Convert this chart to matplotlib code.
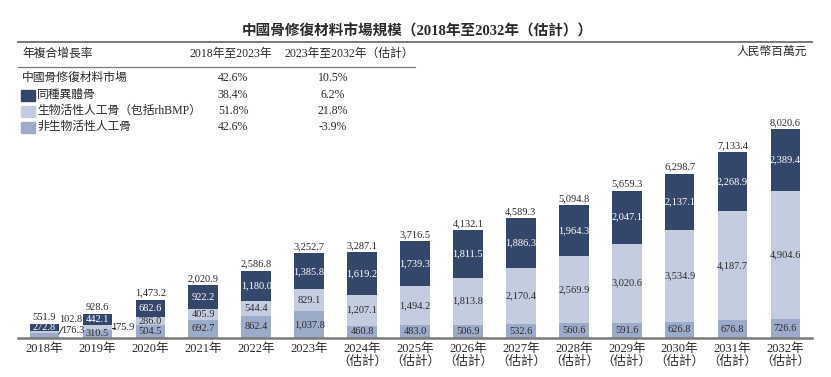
import matplotlib
matplotlib.use("Agg")
import matplotlib.pyplot as plt
from matplotlib.lines import Line2D
from matplotlib.patches import Rectangle

plt.rcParams['font.family'] = ['Liberation Serif', 'Noto Sans CJK TC', 'DejaVu Sans']

years = ["2018年", "2019年", "2020年", "2021年", "2022年", "2023年",
         "2024年\n（估計）", "2025年\n（估計）", "2026年\n（估計）", "2027年\n（估計）",
         "2028年\n（估計）", "2029年\n（估計）", "2030年\n（估計）", "2031年\n（估計）",
         "2032年\n（估計）"]
allograft = [272.8, 442.1, 682.6, 922.2, 1180.0, 1385.8, 1619.2, 1739.3, 1811.5,
             1886.3, 1964.3, 2047.1, 2137.1, 2268.9, 2389.4]
bioactive = [102.8, 175.9, 286.0, 405.9, 544.4, 829.1, 1207.1, 1494.2, 1813.8,
             2170.4, 2569.9, 3020.6, 3534.9, 4187.7, 4904.6]
non_bio = [176.3, 310.5, 504.5, 692.7, 862.4, 1037.8, 460.8, 483.0, 506.9,
           532.6, 560.6, 591.6, 626.8, 676.8, 726.6]
totals = [551.9, 928.6, 1473.2, 2020.9, 2586.8, 3252.7, 3287.1, 3716.5, 4132.1,
          4589.3, 5094.8, 5659.3, 6298.7, 7133.4, 8020.6]

title = "中國骨修復材料市場規模（2018年至2032年（估計））"
unit = "人民幣百萬元"
cagr_header = ["年複合增長率", "2018年至2023年", "2023年至2032年（估計）"]
cagr_rows = ["中國骨修復材料市場", "同種異體骨", "生物活性人工骨（包括rhBMP）", "非生物活性人工骨"]
cagr_1823 = ["42.6%", "38.4%", "51.8%", "42.6%"]
cagr_2332 = ["10.5%", "6.2%", "21.8%", "-3.9%"]

c_dark = "#34476b"
c_light = "#c4cde0"
c_mid = "#9dabca"
c_text = "#2b2b2b"
c_line = "#7a7a7a"

W, H = 831, 377
fig = plt.figure(figsize=(W / 100, H / 100), dpi=100)

def fx(px):
    return px / W

def fy(py):
    return 1 - py / H

# title and rules
fig.text(fx(417), fy(31), title, ha="center", va="center", fontsize=10.5,
         fontweight="bold", color=c_text)
fig.add_artist(Line2D([fx(18), fx(812)], [fy(42), fy(42)], color=c_line, lw=1.4))
fig.add_artist(Line2D([fx(18), fx(415)], [fy(66.5), fy(66.5)], color=c_line, lw=0.9))
fig.text(fx(807), fy(52), unit, ha="right", va="center", fontsize=8.5,
         style="italic", color=c_text)

# CAGR table
fig.text(fx(22), fy(54), cagr_header[0], ha="left", va="center", fontsize=8.5, color=c_text)
fig.text(fx(231), fy(54), cagr_header[1], ha="center", va="center", fontsize=8.5, color=c_text)
fig.text(fx(349), fy(54), cagr_header[2], ha="center", va="center", fontsize=8.5, color=c_text)
row_y = [78, 95, 111, 127]
swatches = [None, c_dark, c_light, c_mid]
for i, name in enumerate(cagr_rows):
    x0 = 22
    if swatches[i] is not None:
        fig.add_artist(Rectangle((fx(21), fy(row_y[i] + 5.5)), 14 / W, 11 / H,
                                 color=swatches[i], transform=fig.transFigure))
        x0 = 37
    fig.text(fx(x0), fy(row_y[i]), name, ha="left", va="center", fontsize=8.5, color=c_text)
    fig.text(fx(233), fy(row_y[i]), cagr_1823[i], ha="center", va="center", fontsize=8.5, color=c_text)
    fig.text(fx(333), fy(row_y[i]), cagr_2332[i], ha="center", va="center", fontsize=8.5, color=c_text)

# bars
ax = fig.add_axes([fx(18), fy(338), 794 / W, 238 / H])
x = list(range(len(years)))
bw = 0.56
ax.bar(x, non_bio, bw, color=c_mid)
ax.bar(x, bioactive, bw, bottom=non_bio, color=c_light)
tops2 = [a + b for a, b in zip(non_bio, bioactive)]
ax.bar(x, allograft, bw, bottom=tops2, color=c_dark)

ax.set_xlim(-0.5, 14.5)
ax.set_ylim(0, 238 / 0.02606)
for s in ["left", "right", "top"]:
    ax.spines[s].set_visible(False)
ax.spines["bottom"].set_color(c_line)
ax.spines["bottom"].set_linewidth(1.8)
ax.set_yticks([])
ax.set_xticks(x)
ax.set_xticklabels(years, fontsize=9, color=c_text, linespacing=1.05)
ax.tick_params(axis="x", length=0, pad=3.5)

fs = 7.5
for i in x:
    ax.annotate(f"{totals[i]:,.1f}", (i, totals[i]), xytext=(0, 1.5),
                textcoords="offset points", ha="center", va="bottom",
                fontsize=fs, color=c_text)
    if i == 0:
        ax.text(i, tops2[i] + allograft[i] / 2, f"{allograft[i]:,.1f}", ha="center",
                va="center", fontsize=fs, color="white")
        ax.text(0.50, 729, f"{bioactive[i]:,.1f}", ha="center", va="center",
                fontsize=fs, color=c_text)
        ax.text(0.54, 269, f"{non_bio[i]:,.1f}", ha="center", va="center",
                fontsize=fs, color=c_text)
        ax.plot([0.27, 0.35], [150, 420], color=c_text, lw=0.7)
        continue
    ax.text(i, tops2[i] + allograft[i] / 2, f"{allograft[i]:,.1f}", ha="center",
            va="center", fontsize=fs, color="white")
    if i == 1:
        ax.text(1.48, non_bio[i] + bioactive[i] / 2, f"{bioactive[i]:,.1f}",
                ha="center", va="center", fontsize=fs, color=c_text)
        ax.plot([1.28, 1.34], [non_bio[i] + bioactive[i] / 2] * 2, color=c_text, lw=0.7)
    else:
        ax.text(i, non_bio[i] + bioactive[i] / 2, f"{bioactive[i]:,.1f}", ha="center",
                va="center", fontsize=fs, color=c_text)
    ax.text(i, non_bio[i] / 2, f"{non_bio[i]:,.1f}", ha="center", va="center",
            fontsize=fs, color=c_text)

fig.savefig("out.png", dpi=100)
